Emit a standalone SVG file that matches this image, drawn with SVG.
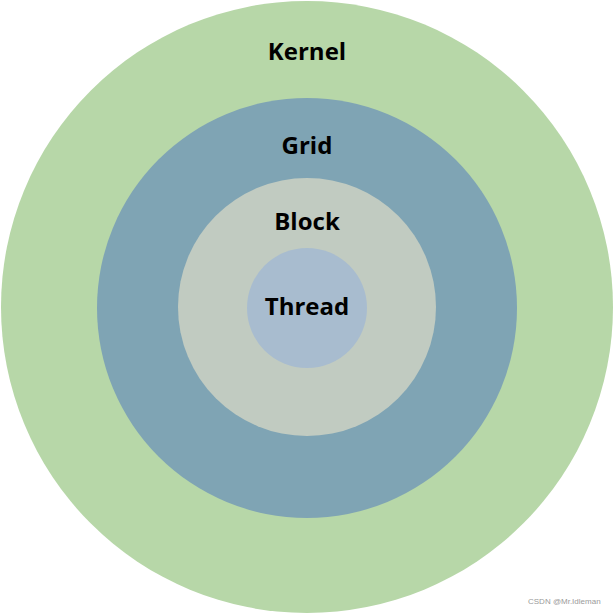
<svg xmlns="http://www.w3.org/2000/svg" width="614" height="614" viewBox="0 0 614 614">
<style>
.lbl{font-family:"Open Sans","Noto Sans","Liberation Sans",sans-serif;font-weight:bold;font-size:24px;fill:#000;text-anchor:middle}
.wm{font-family:"Liberation Sans",sans-serif;font-size:8px;fill:#9a9a9a}
</style>
<rect width="614" height="614" fill="#fff"/>
<g id="kernel"><circle cx="307" cy="307" r="306" fill="#B7D7A8"/><text class="lbl" x="307" y="60">Kernel</text></g>
<g id="grid"><circle cx="307" cy="308" r="210" fill="#7FA4B4"/><text class="lbl" x="307" y="154">Grid</text></g>
<g id="block"><circle cx="307" cy="307" r="129" fill="#C1CBC1"/><text class="lbl" x="307" y="230">Block</text></g>
<g id="thread"><circle cx="307" cy="308" r="60" fill="#A8BCCF"/><text class="lbl" x="307" y="315">Thread</text></g>
<g id="connectors"/>
<text class="wm" x="528" y="604">CSDN @Mr.Idleman</text>
</svg>
